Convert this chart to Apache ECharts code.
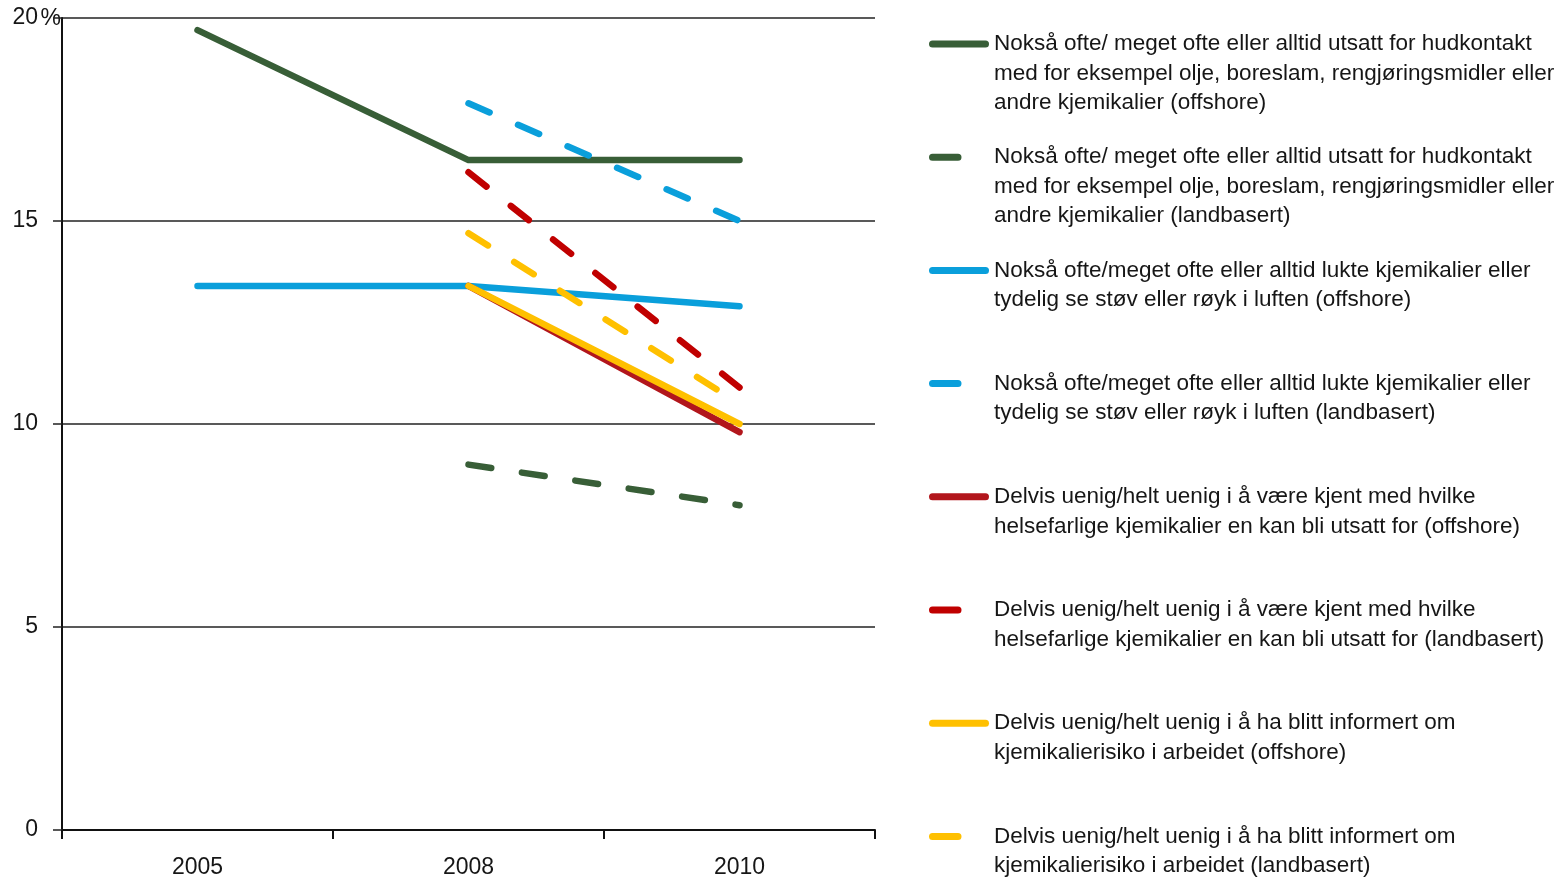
<!DOCTYPE html>
<html>
<head>
<meta charset="utf-8">
<script src="https://cdn.jsdelivr.net/npm/echarts@6/dist/echarts.min.js"></script>
<style>
	html, body { margin: 0; padding: 0; background: #fff; }
	#chart { width: 1566px; height: 877px; }
</style>
</head>
<body>
<div id="chart"></div>
<script>
var years = [ '2005', '2008', '2010' ];
var yTicks = [ 0, 5, 10, 15, 20 ];

// verdier i prosent
var hudOffshore = [ 19.7, 16.5, 16.5 ];
var hudLand = [ null, 9.0, 8.0 ];
var luktOffshore = [ 13.4, 13.4, 12.9 ];
var luktLand = [ null, 17.9, 15.0 ];
var kjentOffshore = [ null, 13.4, 9.8 ];
var kjentLand = [ null, 16.2, 10.9 ];
var infoOffshore = [ null, 13.4, 10.0 ];
var infoLand = [ null, 14.7, 10.5 ];

var legendLines = [
	[ 'Nokså ofte/ meget ofte eller alltid utsatt for hudkontakt', 'med for eksempel olje, boreslam, rengjøringsmidler eller', 'andre kjemikalier (offshore)' ],
	[ 'Nokså ofte/ meget ofte eller alltid utsatt for hudkontakt', 'med for eksempel olje, boreslam, rengjøringsmidler eller', 'andre kjemikalier (landbasert)' ],
	[ 'Nokså ofte/meget ofte eller alltid lukte kjemikalier eller', 'tydelig se støv eller røyk i luften (offshore)' ],
	[ 'Nokså ofte/meget ofte eller alltid lukte kjemikalier eller', 'tydelig se støv eller røyk i luften (landbasert)' ],
	[ 'Delvis uenig/helt uenig i å være kjent med hvilke', 'helsefarlige kjemikalier en kan bli utsatt for (offshore)' ],
	[ 'Delvis uenig/helt uenig i å være kjent med hvilke', 'helsefarlige kjemikalier en kan bli utsatt for (landbasert)' ],
	[ 'Delvis uenig/helt uenig i å ha blitt informert om', 'kjemikalierisiko i arbeidet (offshore)' ],
	[ 'Delvis uenig/helt uenig i å ha blitt informert om', 'kjemikalierisiko i arbeidet (landbasert)' ]
];

var seriesData = [ hudOffshore, hudLand, luktOffshore, luktLand, kjentOffshore, kjentLand, infoOffshore, infoLand ];
var colors = [ '#385e37', '#385e37', '#0a9fdb', '#0a9fdb', '#b2161c', '#c00000', '#ffc000', '#ffc000' ];
var dashed = [ false, true, false, true, false, true, false, true ];

var font = '"Liberation Sans Narrow", "Liberation Sans", Arial, sans-serif';
var lh = 29.5;

// legendeikoner: hel strek 60px, stiplet kort strek (usynlig punkt ved 60 holder bredden)
var iconSolid = 'path://M3.5,0H56.5A3.5,3.5,0,0,1,56.5,7H3.5A3.5,3.5,0,0,1,3.5,0Z';
var iconDash = 'path://M3.5,0H29A3.5,3.5,0,0,1,29,7H3.5A3.5,3.5,0,0,1,3.5,0Z M59.95,0H60V0.05H59.95Z M59.95,6.95H60V7H59.95Z';

var chart = echarts.init(document.getElementById('chart'));

var series = [];
var legends = [];
for (var i = 0; i < seriesData.length; i++) {
	var name = legendLines[i].join(' ');
	series.push({
		name: name,
		type: 'line',
		data: seriesData[i],
		symbol: 'none',
		lineStyle: {
			color: colors[i],
			width: 6.5,
			type: dashed[i] ? [ 23, 31 ] : 'solid',
			cap: 'round',
			join: 'round'
		},
		itemStyle: { color: colors[i] }
	});
	// tomme linjer foran, slik at ikonet står ved første tekstlinje
	var n = legendLines[i].length;
	var padded = [];
	for (var k = 0; k < n - 1; k++) padded.push(' ');
	var txt = padded.concat(legendLines[i]).join('\n');
	legends.push({
		left: 929,
		top: 44 + i * 113.2 - (2 * n - 1) * lh / 2,
		padding: 0,
		orient: 'vertical',
		itemWidth: 60,
		itemHeight: 7,
		selectedMode: false,
		data: [ {
			name: name,
			icon: dashed[i] ? iconDash : iconSolid,
			itemStyle: { color: colors[i], borderWidth: 0 }
		} ],
		formatter: (function (t) { return function () { return t; }; })(txt),
		textStyle: {
			fontFamily: font,
			fontSize: 22.5,
			lineHeight: lh,
			color: '#161616'
		}
	});
}

var option = {
	animation: false,
	color: colors,
	legend: legends,
	grid: {
		left: 62,
		right: 691,
		top: 18,
		bottom: 47,
		outerBoundsMode: 'none',
		containLabel: false
	},
	xAxis: {
		type: 'category',
		data: years,
		boundaryGap: true,
		axisLine: { lineStyle: { color: '#111', width: 2 } },
		axisTick: { show: true, length: 9, lineStyle: { color: '#111', width: 2 } },
		axisLabel: {
			margin: 26,
			fontFamily: font,
			fontSize: 23,
			color: '#161616'
		},
		splitLine: { show: false }
	},
	yAxis: {
		type: 'value',
		min: yTicks[0],
		max: yTicks[yTicks.length - 1],
		interval: 5,
		name: '%',
		nameLocation: 'end',
		nameGap: -1,
		nameMoveOverlap: false,
		nameTextStyle: {
			align: 'right',
			verticalAlign: 'middle',
			padding: [ 0, 1, 0, 0 ],
			fontFamily: font,
			fontSize: 23,
			color: '#161616'
		},
		axisLine: { show: true, lineStyle: { color: '#111', width: 2 } },
		axisTick: { show: true, length: 9, lineStyle: { color: '#222', width: 1.5 } },
		axisLabel: {
			margin: 24,
			fontFamily: font,
			fontSize: 23,
			color: '#161616'
		},
		splitLine: { show: true, lineStyle: { color: '#222', width: 1.5 } }
	},
	series: series
};

chart.setOption(option);
</script>
</body>
</html>
